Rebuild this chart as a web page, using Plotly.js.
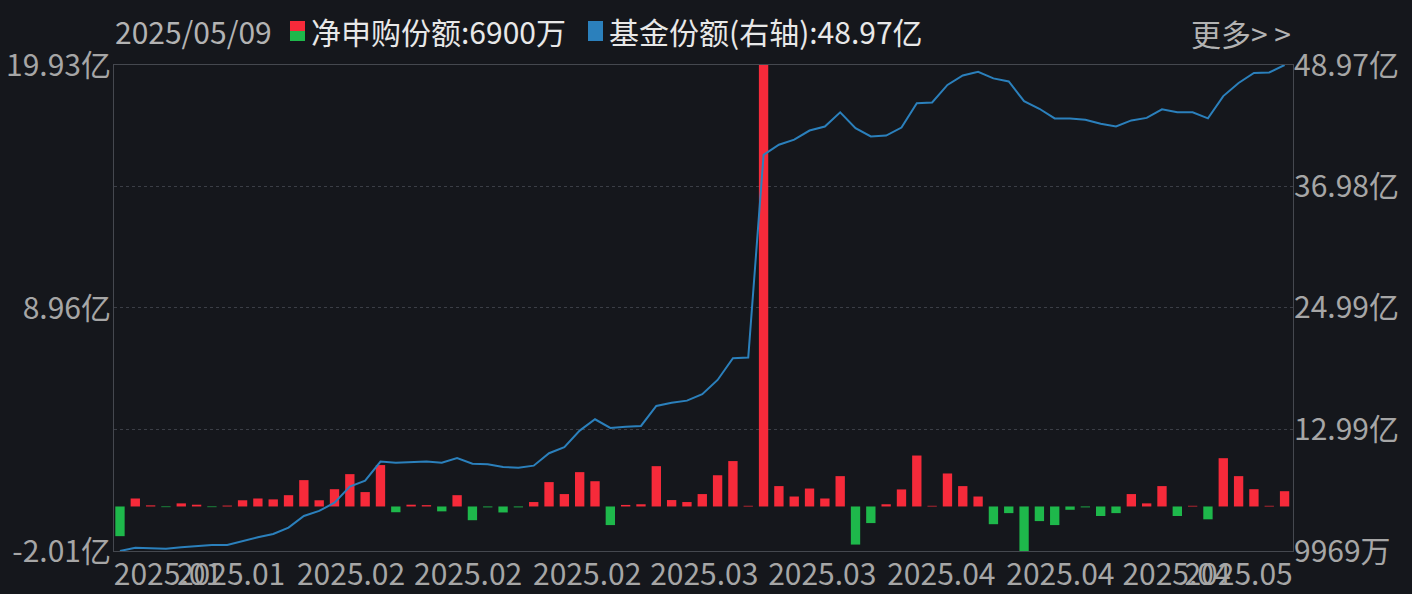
<!DOCTYPE html>
<html>
<head>
<meta charset="utf-8">
<script src="https://cdn.plot.ly/plotly-3.0.1.min.js"></script>
<style>
  html, body { margin: 0; padding: 0; background: #15171c; }
  #chart { width: 1412px; height: 594px; }
</style>
</head>
<body>
<div id="chart"></div>
<script>
// ---- data ----
const dates = [
  "2025-01-09","2025-01-10","2025-01-13","2025-01-14","2025-01-15","2025-01-16","2025-01-17",
  "2025-01-20","2025-01-21","2025-01-22","2025-01-23","2025-01-24","2025-01-27",
  "2025-02-05","2025-02-06","2025-02-07","2025-02-10","2025-02-11","2025-02-12","2025-02-13","2025-02-14",
  "2025-02-17","2025-02-18","2025-02-19","2025-02-20","2025-02-21","2025-02-24","2025-02-25","2025-02-26",
  "2025-02-27","2025-02-28",
  "2025-03-03","2025-03-04","2025-03-05","2025-03-06","2025-03-07","2025-03-10","2025-03-11","2025-03-12",
  "2025-03-13","2025-03-14","2025-03-17","2025-03-18","2025-03-19","2025-03-20","2025-03-21","2025-03-24",
  "2025-03-25","2025-03-26","2025-03-27","2025-03-28","2025-03-31",
  "2025-04-01","2025-04-02","2025-04-03","2025-04-07","2025-04-08","2025-04-09","2025-04-10","2025-04-11",
  "2025-04-14","2025-04-15","2025-04-16","2025-04-17","2025-04-18","2025-04-21","2025-04-22","2025-04-23",
  "2025-04-24","2025-04-25","2025-04-28","2025-04-29","2025-04-30",
  "2025-05-06","2025-05-07","2025-05-08","2025-05-09"
];

// 净申购份额 (亿)
const netSubscription = [
  -1.34, 0.36, 0.05, -0.03, 0.14, 0.08, -0.03, 0.04, 0.28, 0.36,
  0.32, 0.51, 1.19, 0.28, 0.78, 1.46, 0.65, 1.87, -0.26, 0.08,
  0.06, -0.22, 0.51, -0.62, -0.04, -0.27, -0.04, 0.20, 1.10, 0.56,
  1.55, 1.14, -0.84, 0.07, 0.10, 1.82, 0.29, 0.20, 0.56, 1.41,
  2.05, 0.03, 19.93, 0.92, 0.45, 0.81, 0.36, 1.37, -1.72, -0.75,
  0.10, 0.77, 2.30, 0.03, 1.49, 0.92, 0.45, -0.80, -0.30, -2.01,
  -0.66, -0.84, -0.15, -0.04, -0.43, -0.30, 0.56, 0.14, 0.92, -0.43,
  0.03, -0.58, 2.18, 1.37, 0.78, 0.03, 0.69
];

// 基金份额 (亿, 右轴)
const fundShares = [
  0.9969, 1.32, 1.26, 1.22, 1.36, 1.49, 1.59, 1.59, 1.98, 2.35,
  2.68, 3.30, 4.45, 4.95, 5.77, 7.35, 7.94, 9.82, 9.72, 9.77,
  9.82, 9.72, 10.18, 9.62, 9.56, 9.29, 9.22, 9.42, 10.65, 11.24,
  12.88, 14.00, 13.14, 13.27, 13.34, 15.32, 15.64, 15.84, 16.47, 17.88,
  20.03, 20.09, 40.10, 41.10, 41.60, 42.50, 42.90, 44.30, 42.74, 41.92,
  42.00, 42.80, 45.20, 45.27, 47.00, 47.94, 48.30, 47.65, 47.35, 45.40,
  44.65, 43.70, 43.70, 43.57, 43.17, 42.90, 43.50, 43.75, 44.60, 44.30,
  44.30, 43.70, 45.90, 47.20, 48.18, 48.24, 48.97
];

// x tick positions (in trading-day index units) and their labels
const xTickPos = [3.13, 7.25, 15.08, 22.72, 30.49, 38.13, 45.83, 53.6, 61.37, 68.95, 73.0];
const xTickText = ["2025.01","2025.01","2025.02","2025.02","2025.02","2025.03",
                   "2025.03","2025.04","2025.04","2025.04","2025.05"];

// y axis ticks
const leftTickVals = [19.93, 8.96, -2.01];
const leftTickText = ["19.93亿", "8.96亿", "-2.01亿"];
const rightTickVals = [48.97, 36.98, 24.99, 12.99, 0.9969];
const rightTickText = ["48.97亿", "36.98亿", "24.99亿", "12.99亿", "9969万"];

// ---- styling ----
const BG = "#15171c";
const RED = "#f62a3a";
const GREEN = "#1eb84b";
const BLUE = "#2b80bc";
const AXIS_TXT = "#a6a6a6";
const FONT = "'Noto Sans CJK SC', 'Noto Sans', sans-serif";

const xIndex = dates.map((d, i) => i);
const barColors = netSubscription.map(v => v >= 0 ? RED : GREEN);

const lastDate = dates[dates.length - 1].replace(/-/g, "/");
const lastNet = netSubscription[netSubscription.length - 1];
const lastNetText = Math.abs(lastNet) < 1 ? Math.round(lastNet * 10000) + "万" : lastNet.toFixed(2) + "亿";
const lastShare = fundShares[fundShares.length - 1].toFixed(2) + "亿";

const traces = [
  {
    type: "bar",
    x: xIndex,
    y: netSubscription,
    customdata: dates,
    marker: { color: barColors, line: { width: 0 } },
    yaxis: "y",
    hovertemplate: "%{customdata}<br>%{y}亿<extra></extra>"
  },
  {
    type: "scatter",
    mode: "lines",
    x: xIndex,
    y: fundShares,
    customdata: dates,
    line: { color: BLUE, width: 2 },
    yaxis: "y2",
    hovertemplate: "%{customdata}<br>%{y}亿<extra></extra>"
  }
];

// helpers for legend placement in paper coords
const L = 114, R = 1293, T = 65, B = 551;
const px = x => (x - L) / (R - L);
const py = y => (B - y) / (B - T);

const TICK_SIZE = 30;

const layout = {
  width: 1412,
  height: 594,
  paper_bgcolor: BG,
  plot_bgcolor: BG,
  showlegend: false,
  bargap: 0.39,
  margin: { l: L, r: 1412 - R, t: T, b: 594 - B, pad: 0 },
  font: { family: FONT, color: AXIS_TXT, size: TICK_SIZE },
  xaxis: {
    type: "linear",
    range: [-0.39, 76.55],
    tickmode: "array",
    tickvals: xTickPos,
    ticktext: xTickText,
    tickangle: 0,
    ticks: "",
    ticklabelstandoff: -3,
    showgrid: false,
    zeroline: false,
    showline: true,
    mirror: true,
    linecolor: "#45484f",
    linewidth: 1,
    tickfont: { family: FONT, size: TICK_SIZE, color: AXIS_TXT },
    fixedrange: true
  },
  yaxis: {
    range: [-2.01, 19.93],
    tickmode: "array",
    tickvals: leftTickVals,
    ticktext: leftTickText,
    ticks: "",
    ticklabelstandoff: -4,
    showgrid: false,
    zeroline: false,
    showline: true,
    mirror: true,
    linecolor: "#45484f",
    linewidth: 1,
    tickfont: { family: FONT, size: TICK_SIZE, color: AXIS_TXT },
    fixedrange: true
  },
  yaxis2: {
    overlaying: "y",
    side: "right",
    range: [0.9969, 48.97],
    tickmode: "array",
    tickvals: rightTickVals,
    ticktext: rightTickText,
    ticks: "",
    showgrid: true,
    gridcolor: "#3b3e46",
    griddash: "dot",
    gridwidth: 1,
    zeroline: false,
    showline: false,
    tickfont: { family: FONT, size: TICK_SIZE, color: AXIS_TXT },
    fixedrange: true
  },
  shapes: [
    { type: "rect", xref: "paper", yref: "paper", x0: px(290), x1: px(305), y0: py(31), y1: py(21),
      fillcolor: RED, line: { width: 0 } },
    { type: "rect", xref: "paper", yref: "paper", x0: px(290), x1: px(305), y0: py(41), y1: py(31),
      fillcolor: GREEN, line: { width: 0 } },
    { type: "rect", xref: "paper", yref: "paper", x0: px(588), x1: px(603), y0: py(41), y1: py(21),
      fillcolor: BLUE, line: { width: 0 } }
  ],
  annotations: [
    { xref: "paper", yref: "paper", x: px(113), y: py(31), xanchor: "left", yanchor: "middle",
      text: lastDate, showarrow: false, font: { family: FONT, size: 30, color: "#b3b3b3" } },
    { xref: "paper", yref: "paper", x: px(309), y: py(31), xanchor: "left", yanchor: "middle",
      text: "净申购份额:" + lastNetText, showarrow: false, font: { family: FONT, size: 30, color: "#e8e8e8" } },
    { xref: "paper", yref: "paper", x: px(607), y: py(31), xanchor: "left", yanchor: "middle",
      text: "基金份额(右轴):" + lastShare, showarrow: false, font: { family: FONT, size: 30, color: "#e8e8e8" } },
    { xref: "paper", yref: "paper", x: px(1293), y: py(33), xanchor: "right", yanchor: "middle",
      text: "更多> >", showarrow: false, font: { family: FONT, size: 30, color: "#b3b3b3" } }
  ]
};

Plotly.newPlot("chart", traces, layout, { displayModeBar: false, staticPlot: true });
</script>
</body>
</html>
